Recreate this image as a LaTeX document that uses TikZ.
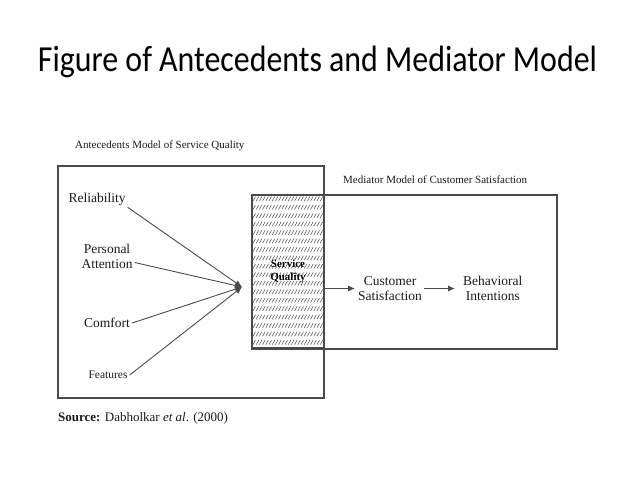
\documentclass[tikz,border=0pt]{standalone}
\usepackage{fontspec}
\usepackage{graphicx}
\setmainfont{Liberation Serif}
\newfontfamily\titlefont{Carlito}
\usetikzlibrary{arrows.meta}
\definecolor{ink}{HTML}{1A1A1A}
\definecolor{frame}{HTML}{4A4A4A}
\tikzset{
  lbl/.style={font=\fontsize{13.5}{15}\selectfont, text=ink, inner sep=2pt, align=center},
  small/.style={font=\fontsize{11}{13}\selectfont, text=ink, inner sep=0pt},
  box/.style={draw=frame, line width=1.1pt},
  conn/.style={draw=frame, line width=0.9pt, -{Latex[length=7pt,width=6pt]}},
  hatchline/.style={draw=frame, line width=0.5pt}
}
\begin{document}
\begin{tikzpicture}[x=1pt,y=-1pt]
\useasboundingbox (0,0) rectangle (638,479);
% title
\node[font=\titlefont\fontsize{31.9}{34}\selectfont, anchor=base, inner sep=0pt, text=black] (title) at (317.5,71.5) {\scalebox{1}[1.15]{Figure of Antecedents and Mediator Model}};
% headings
\node[small, anchor=west] (anthead) at (75,146) {Antecedents Model of Service Quality};
\node[small, anchor=west] (medhead) at (343,180) {Mediator Model of Customer Satisfaction};
% hatching
\foreach \r in {0,...,17}{
  \foreach \c in {0,...,21}{
    \draw[hatchline] ({253+\c*3.2},{201+\r*8.45}) -- ({255.5+\c*3.2},{196.5+\r*8.45});
  }
}
% boxes
\draw[box] (58,166) rectangle (324,398);
\draw[box] (252,195) rectangle (557,349);
\node[draw=frame, line width=1.1pt, minimum width=72pt, minimum height=153pt, inner sep=0pt,
      font=\bfseries\fontsize{11}{13}\selectfont, text=black, align=center] (sq) at (288,271.5) {Service\\Quality};
% antecedents
\node[lbl] (rel) at (97,199) {Reliability};
\node[lbl] (pa) at (107,256.5) {Personal\\Attention};
\node[lbl] (com) at (107,323) {Comfort};
\node[lbl, font=\fontsize{11.5}{13}\selectfont] (fea) at (108,375) {Features};
\coordinate (hub) at (242,287);
\draw[conn] (rel.south east) -- (hub);
\draw[conn] ([yshift=-6pt]pa.east) -- (hub);
\draw[conn] (com.east) -- (hub);
\draw[conn] (fea.east) -- (hub);
% mediator
\node[lbl, anchor=west, inner sep=0pt] (cs) at (358,288.5) {Customer\\Satisfaction};
\node[lbl, anchor=west, inner sep=0pt] (bi) at (463,288.5) {Behavioral\\Intentions};
\draw[conn] (sq.east |- cs.west) -- ([xshift=-3pt]cs.west);
\draw[conn] ([xshift=2pt]cs.east) -- ([xshift=-8pt]bi.west);
% source
\node[anchor=west, inner sep=0pt, font=\fontsize{13}{15}\selectfont, text=ink] (src) at (58,418) {\textbf{Source:} Dabholkar \textit{et al}. (2000)};
\end{tikzpicture}
\end{document}
